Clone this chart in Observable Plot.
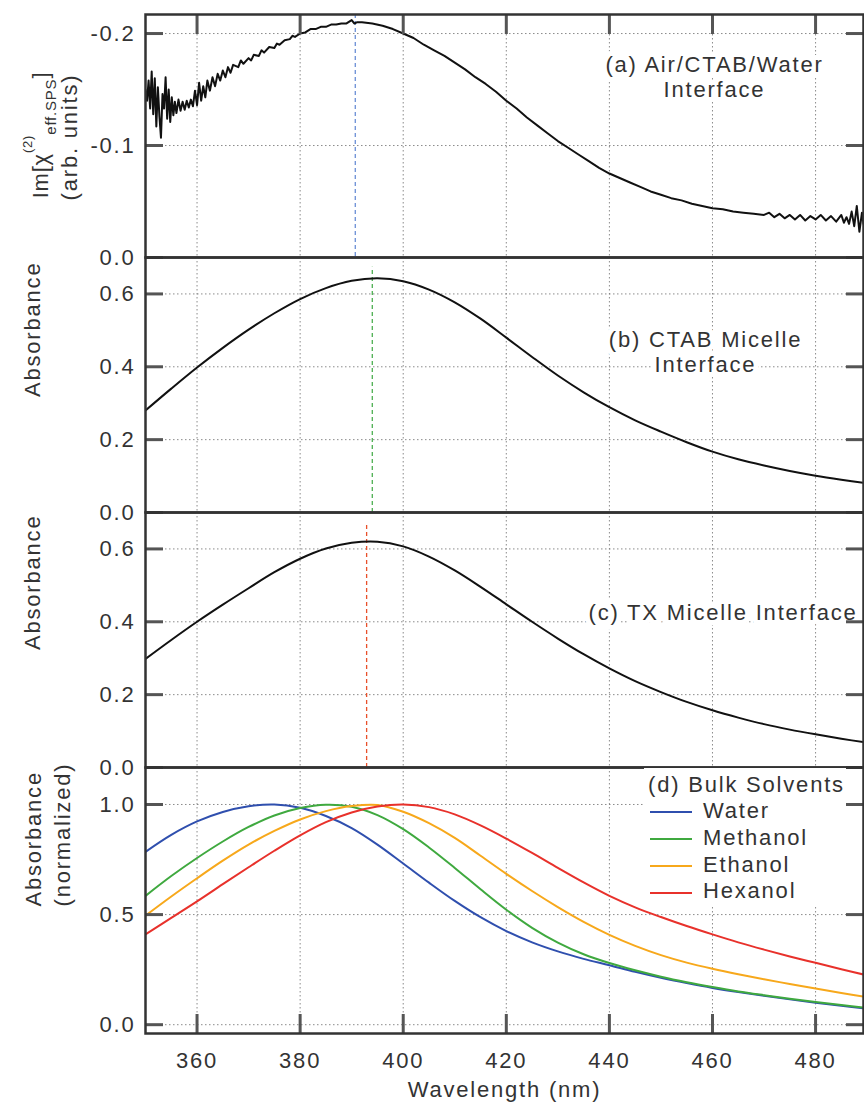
<!DOCTYPE html>
<html>
<head>
<meta charset="utf-8">
<script src="https://cdn.jsdelivr.net/npm/d3@7"></script>
<script src="https://cdn.jsdelivr.net/npm/@observablehq/plot@0.6"></script>
<style>
  body { margin: 0; background: #fff; }
  #chart { position: relative; width: 864px; height: 1109px; font-family: "Liberation Sans", Arial, sans-serif; }
  #chart svg { position: absolute; left: 0; overflow: visible; }
  .legend { position: absolute; left: 644px; top: 768px; width: 202px; height: 138px; background: #fff;
            font: 22px "Liberation Sans", Arial, sans-serif; letter-spacing: 1.8px; color: #333; line-height: 26.7px;
            padding-top: 3.6px; box-sizing: border-box; white-space: nowrap; }
  .legend .title { padding-left: 4px; }
  .legend .row { padding-left: 6px; }
  .legend .sw { display: inline-block; width: 42px; height: 0; vertical-align: middle; margin-right: 11px; border-top: 2.5px solid; }
</style>
</head>
<body>
<div id="chart"></div>
<script>
// ---------- data ----------
const xTicks = [360, 380, 400, 420, 440, 460, 480];
const yTicksA = [-0.2, -0.1, 0];
const yTicksAbs = [0, 0.2, 0.4, 0.6];
const yTicksNorm = [0, 0.5, 1.0];

const panelLabels = ["(a) Air/CTAB/Water\nInterface", "(b) CTAB Micelle\nInterface", "(c) TX Micelle Interface", "(d) Bulk Solvents"];
const yTitleAbs = "Absorbance";
const yTitleNorm = "Absorbance\n(normalized)";
const xTitle = "Wavelength (nm)";

// peak markers (nm)
const peakA = 390.7, peakB = 394.0, peakC = 392.9;

// (a) Im[chi(2)] at the air/CTAB/water interface
const waveA = [350.0,350.3,350.6,350.9,351.2,351.5,351.8,352.1,352.4,352.7,353.0,353.3,353.6,353.9,354.2,354.5,354.8,355.1,355.4,355.7,
  356.0,356.4,356.8,357.2,357.6,358.0,358.4,358.8,359.2,359.6,360.0,360.4,360.8,361.2,361.6,362.0,362.5,363.0,363.5,364.0,364.5,
  365.0,365.5,366.0,366.5,367.0,368.0,368.5,369.0,370.0,370.5,371.0,372.0,372.5,373.0,374.0,375.0,375.5,376.0,377.0,378.0,378.5,
  379.0,380.0,381.0,382.0,383.0,384.0,385.0,386.0,387.0,388.0,389.0,390.0,390.5,391.0,392.0,394.0,396.0,398.0,400.0,402.0,404.0,
  406.0,408.0,410.0,412.0,414.0,416.0,418.0,420.0,422.0,424.0,426.0,428.0,430.0,432.0,434.0,436.0,438.0,440.0,442.0,444.0,446.0,
  448.0,450.0,452.0,454.0,456.0,458.0,460.0,462.0,464.0,466.0,468.0,470.0,471.0,472.0,473.0,474.0,475.0,476.0,477.0,478.0,479.0,
  480.0,481.0,482.0,483.0,484.0,485.0,485.5,486.0,486.5,487.0,487.5,488.0,488.5,489.0,489.3];
const imChiA = [-0.150,-0.140,-0.158,-0.133,-0.166,-0.128,-0.160,-0.117,-0.152,-0.126,-0.107,-0.146,-0.133,-0.161,-0.124,-0.150,-0.121,-0.143,-0.127,-0.139,
  -0.129,-0.141,-0.131,-0.139,-0.132,-0.140,-0.134,-0.141,-0.135,-0.149,-0.136,-0.156,-0.140,-0.153,-0.143,-0.158,-0.149,-0.161,-0.153,-0.164,-0.158,
  -0.167,-0.161,-0.170,-0.165,-0.172,-0.170,-0.176,-0.173,-0.178,-0.176,-0.181,-0.180,-0.185,-0.183,-0.188,-0.187,-0.191,-0.190,-0.194,-0.195,-0.198,
  -0.197,-0.200,-0.201,-0.204,-0.204,-0.206,-0.206,-0.208,-0.208,-0.209,-0.209,-0.212,-0.209,-0.210,-0.210,-0.209,-0.207,-0.204,-0.200,-0.196,-0.190,
  -0.185,-0.180,-0.174,-0.168,-0.161,-0.155,-0.148,-0.140,-0.133,-0.125,-0.118,-0.111,-0.104,-0.098,-0.092,-0.086,-0.080,-0.075,-0.071,-0.067,-0.063,
  -0.059,-0.056,-0.053,-0.051,-0.048,-0.046,-0.044,-0.043,-0.041,-0.040,-0.039,-0.038,-0.040,-0.036,-0.039,-0.035,-0.038,-0.034,-0.038,-0.033,-0.037,
  -0.034,-0.038,-0.033,-0.037,-0.032,-0.038,-0.031,-0.036,-0.030,-0.041,-0.028,-0.046,-0.023,-0.040,-0.030];

// (b), (c), (d) share a 5 nm wavelength grid
const waveGrid = [350,355,360,365,370,375,380,385,390,395,400,405,410,415,420,425,430,435,440,445,450,455,460,465,470,475,480,485,490];
const absB = [0.280,0.340,0.398,0.452,0.502,0.547,0.586,0.616,0.636,0.643,0.635,0.612,0.577,0.532,0.480,0.427,0.376,0.330,0.289,0.253,0.222,0.193,0.167,0.146,0.129,0.114,0.101,0.090,0.080];
const absC = [0.298,0.350,0.400,0.447,0.492,0.536,0.573,0.601,0.617,0.620,0.607,0.579,0.541,0.496,0.448,0.400,0.354,0.311,0.272,0.237,0.207,0.180,0.157,0.137,0.119,0.104,0.091,0.079,0.068];

const solvents = ["Water", "Methanol", "Ethanol", "Hexanol"];
const solventColors = ["#2f4fae", "#3fa93f", "#f7a81b", "#e8312b"];
const water    = [0.785,0.862,0.923,0.966,0.992,1.000,0.985,0.948,0.893,0.818,0.732,0.645,0.562,0.488,0.425,0.374,0.333,0.299,0.270,0.240,0.213,0.189,0.167,0.148,0.131,0.115,0.100,0.086,0.073];
const methanol = [0.585,0.675,0.757,0.832,0.898,0.950,0.984,0.999,0.990,0.952,0.888,0.805,0.712,0.615,0.522,0.440,0.373,0.320,0.280,0.247,0.218,0.193,0.171,0.151,0.134,0.118,0.103,0.089,0.076];
const ethanol  = [0.495,0.582,0.665,0.745,0.818,0.880,0.932,0.970,0.993,0.998,0.967,0.915,0.848,0.767,0.685,0.607,0.534,0.467,0.408,0.358,0.316,0.282,0.254,0.229,0.206,0.185,0.164,0.144,0.125];
const hexanol  = [0.410,0.485,0.560,0.638,0.715,0.790,0.860,0.920,0.964,0.991,1.000,0.988,0.955,0.905,0.845,0.780,0.712,0.646,0.585,0.533,0.489,0.448,0.410,0.374,0.341,0.310,0.281,0.252,0.224];
const solventValues = [water, methanol, ethanol, hexanol];

// ---------- tables built from the arrays ----------
const dataA = waveA.map((w, i) => ({w, v: imChiA[i]}));
const dataB = waveGrid.map((w, i) => ({w, v: absB[i]}));
const dataC = waveGrid.map((w, i) => ({w, v: absC[i]}));
const dataD = solvents.flatMap((s, j) => waveGrid.map((w, i) => ({w, v: solventValues[j][i], s})));

// ---------- drawing ----------
const FONT = "'Liberation Sans', Arial, sans-serif";
const xDomain = [350, 489.3];
const chart = document.getElementById("chart");

function panel({top, height, marginTop, marginBottom, yDomain, yTicks, yFormat, marks, xAxisMarks = [], extra = {}}) {
  const svg = Plot.plot({
    width: 864, height, marginLeft: 145, marginRight: 1, marginTop, marginBottom,
    x: {domain: xDomain, axis: null},
    y: {domain: yDomain, axis: null},
    ...extra,
    style: {fontFamily: FONT, fontSize: "22px", letterSpacing: "1.8px", background: "transparent", overflow: "visible", color: "#333"},
    marks: [
      Plot.gridX(xTicks, {stroke: "#777", strokeOpacity: 0.85, strokeDasharray: "1.5,2.5", strokeWidth: 1}),
      Plot.gridY(yTicks, {stroke: "#777", strokeOpacity: 0.85, strokeDasharray: "1.5,2.5", strokeWidth: 1}),
      ...marks,
      Plot.axisY(yTicks, {anchor: "left", tickSize: -18, tickFormat: () => "", strokeWidth: 3, stroke: "#555", label: null}),
      Plot.axisY(yTicks, {anchor: "right", tickSize: -18, tickFormat: () => "", strokeWidth: 3, stroke: "#555", label: null}),
      Plot.axisY(yTicks, {anchor: "left", tickSize: 0, tickPadding: 10, tickFormat: yFormat, label: null}),
      ...xAxisMarks,
      Plot.frame({stroke: "#333", strokeWidth: 2.5})
    ]
  });
  svg.style.position = "absolute";
  svg.style.top = top + "px";
  svg.style.left = "0px";
  chart.appendChild(svg);
  return svg;
}

const fmt1 = d => d.toFixed(1);
const labelStyle = {fill: "#333", stroke: "white", strokeWidth: 10, fontSize: 22, text: d => d};

// (a)
const svgA = panel({
  top: 0, height: 260, marginTop: 14, marginBottom: 3,
  yDomain: [0, -0.217], yTicks: yTicksA, yFormat: fmt1,
  marks: [
    Plot.ruleX([peakA], {stroke: "#6b8fd6", strokeWidth: 1.3, strokeDasharray: "4,3"}),
    Plot.text([panelLabels[0]], {...labelStyle, frameAnchor: "top-right", dx: -149, dy: 40, textAnchor: "middle", lineAnchor: "top", lineHeight: 1.13}),
    Plot.line(dataA, {x: "w", y: "v", stroke: "#111", strokeWidth: 2, clip: true})
  ],
  xAxisMarks: [
    Plot.axisX(xTicks, {anchor: "top", tickSize: -19, tickFormat: () => "", strokeWidth: 3, stroke: "#555", label: null})
  ]
});
// y title of (a) with super/subscripts
{
  const t1 = d3.select(svgA).append("text")
    .attr("transform", "translate(48,135) rotate(-90)")
    .attr("text-anchor", "middle").attr("fill", "#333").attr("font-size", 22)
    .style("letter-spacing", "0.8px");
  t1.append("tspan").text("Im[χ");
  t1.append("tspan").attr("dy", -16).attr("font-size", 13).text("(2)");
  t1.append("tspan").attr("dy", 24).attr("font-size", 15).text("eff.SPS");
  t1.append("tspan").attr("dy", -8).text("]");
  d3.select(svgA).append("text")
    .attr("transform", "translate(77,137) rotate(-90)")
    .attr("text-anchor", "middle").attr("fill", "#333").attr("font-size", 22)
    .text("(arb. units)");
}

// (b)
panel({
  top: 254, height: 261, marginTop: 3, marginBottom: 3,
  yDomain: [0, 0.7], yTicks: yTicksAbs, yFormat: fmt1,
  marks: [
    Plot.ruleX([peakB], {y1: 0, y2: d3.max(absB) + 0.03, stroke: "#4caf50", strokeWidth: 1.3, strokeDasharray: "4,3"}),
    Plot.text([panelLabels[1]], {...labelStyle, frameAnchor: "top-right", dx: -158, dy: 72, textAnchor: "middle", lineAnchor: "top", lineHeight: 1.13}),
    Plot.text([yTitleAbs], {fill: "#333", text: d => d, frameAnchor: "left", rotate: -90, dx: -113, dy: 12, fontSize: 22}),
    Plot.line(dataB, {x: "w", y: "v", curve: "catmull-rom", stroke: "#111", strokeWidth: 2, clip: true})
  ]
});

// (c)
panel({
  top: 509, height: 261, marginTop: 3, marginBottom: 3,
  yDomain: [0, 0.7], yTicks: yTicksAbs, yFormat: fmt1,
  marks: [
    Plot.ruleX([peakC], {y1: 0, y2: d3.max(absC) + 0.045, stroke: "#e8502a", strokeWidth: 1.3, strokeDasharray: "4,3"}),
    Plot.text([panelLabels[2]], {...labelStyle, frameAnchor: "top-right", dx: -6, dy: 100, textAnchor: "end", lineAnchor: "middle"}),
    Plot.text([yTitleAbs], {fill: "#333", text: d => d, frameAnchor: "left", rotate: -90, dx: -113, dy: 10, fontSize: 22}),
    Plot.line(dataC, {x: "w", y: "v", curve: "catmull-rom", stroke: "#111", strokeWidth: 2, clip: true})
  ]
});

// (d)
panel({
  top: 764, height: 345, marginTop: 3, marginBottom: 76,
  yDomain: [-0.04, 1.168], yTicks: yTicksNorm, yFormat: fmt1,
  extra: {color: {domain: solvents, range: solventColors}},
  marks: [
    Plot.text([yTitleNorm], {fill: "#333", text: d => d, frameAnchor: "left", rotate: -90, dx: -99, dy: 6, fontSize: 22, lineHeight: 1.3}),
    Plot.line(dataD, {x: "w", y: "v", z: "s", stroke: "s", curve: "catmull-rom", strokeWidth: 2, clip: true}),
    Plot.text(xTicks, {x: d => d, text: d => String(d), frameAnchor: "bottom", dy: 27, lineAnchor: "middle", fontSize: 22, fill: "#333"}),
    Plot.text([xTitle], {fill: "#333", text: d => d, frameAnchor: "bottom", dy: 56, lineAnchor: "middle", fontSize: 22})
  ],
  xAxisMarks: [
    Plot.axisX(xTicks, {anchor: "bottom", tickSize: -19, tickFormat: () => "", strokeWidth: 3, stroke: "#555", label: null})
  ]
});

// legend for (d)
{
  const lg = document.createElement("div");
  lg.className = "legend";
  const title = document.createElement("div");
  title.className = "title";
  title.textContent = panelLabels[3];
  lg.appendChild(title);
  solvents.forEach((s, i) => {
    const row = document.createElement("div");
    row.className = "row";
    const sw = document.createElement("span");
    sw.className = "sw";
    sw.style.borderTopColor = solventColors[i];
    row.appendChild(sw);
    row.appendChild(document.createTextNode(s));
    lg.appendChild(row);
  });
  chart.appendChild(lg);
}
</script>
</body>
</html>
